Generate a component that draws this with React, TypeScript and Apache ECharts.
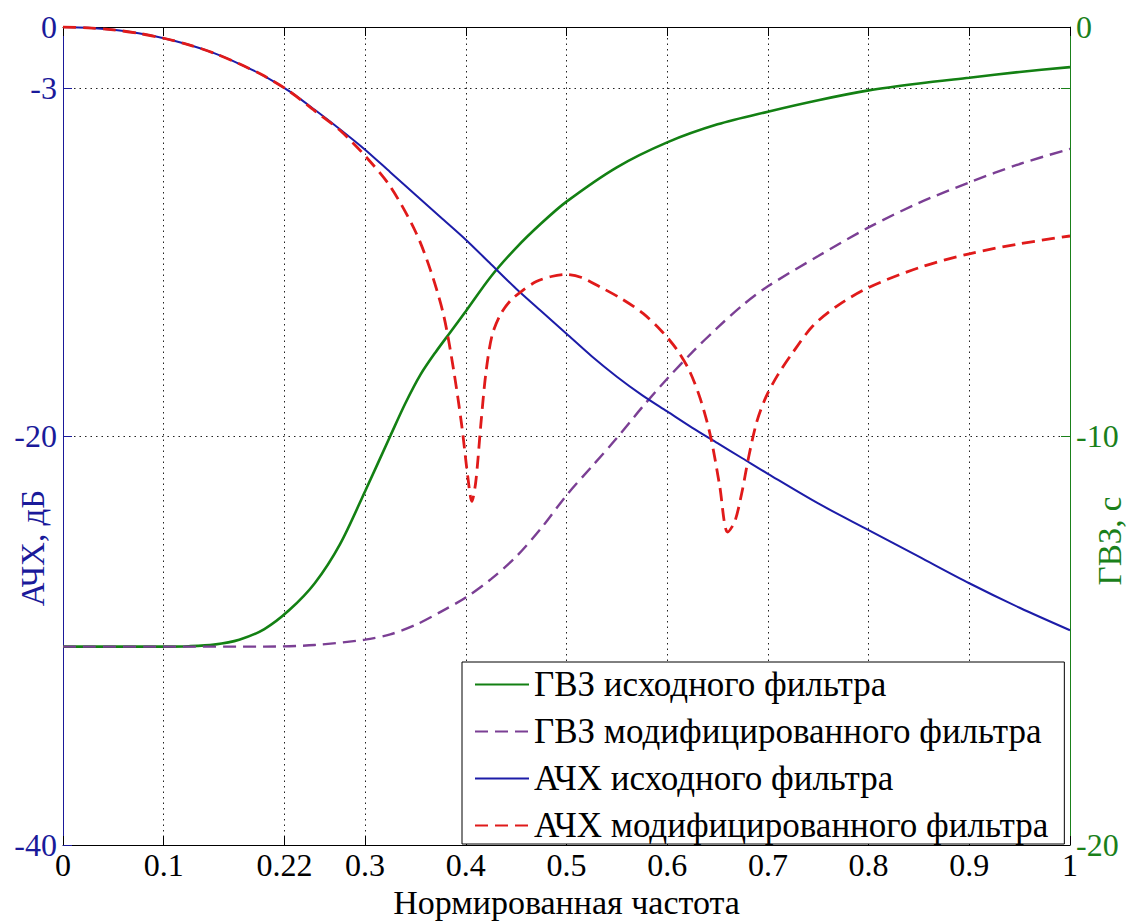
import { useEffect, useRef } from "react";
import * as echarts from "echarts";

// ---- axis ticks ----
const xTicks = [0, 0.1, 0.22, 0.3, 0.4, 0.5, 0.6, 0.7, 0.8, 0.9, 1];
const leftTicks = [0, -3, -20, -40];
const rightTicks = [0, -10, -20];

// ---- ГВЗ исходного фильтра (s) ----
const gvzOrigFreq = [0, 0.05, 0.1, 0.125, 0.15, 0.175, 0.2, 0.225, 0.25, 0.275, 0.3, 0.325, 0.34, 0.355, 0.37, 0.385, 0.4, 0.425, 0.45, 0.475, 0.5, 0.55, 0.6, 0.65, 0.7, 0.75, 0.8, 0.85, 0.9, 0.95, 1.0];
const gvzOrigVal = [-15.15, -15.15, -15.15, -15.14, -15.1, -14.98, -14.72, -14.25, -13.6, -12.65, -11.35, -10.0, -9.2, -8.5, -7.95, -7.45, -6.95, -6.1, -5.4, -4.8, -4.27, -3.43, -2.82, -2.38, -2.07, -1.79, -1.55, -1.38, -1.24, -1.1, -0.98];

// ---- ГВЗ модифицированного фильтра (s) ----
const gvzModFreq = [0, 0.1, 0.2, 0.25, 0.3, 0.325, 0.35, 0.375, 0.4, 0.425, 0.45, 0.475, 0.5, 0.525, 0.55, 0.575, 0.6, 0.625, 0.65, 0.675, 0.7, 0.75, 0.8, 0.85, 0.9, 0.95, 1.0];
const gvzModVal = [-15.15, -15.15, -15.15, -15.11, -14.98, -14.85, -14.62, -14.3, -13.95, -13.5, -12.95, -12.25, -11.45, -10.75, -10.05, -9.3, -8.6, -7.95, -7.35, -6.8, -6.34, -5.6, -4.9, -4.3, -3.8, -3.35, -2.98];

// ---- АЧХ исходного фильтра (dB) ----
const achOrigFreq = [0, 0.025, 0.05, 0.075, 0.1, 0.125, 0.15, 0.175, 0.2, 0.225, 0.25, 0.275, 0.3, 0.325, 0.35, 0.375, 0.4, 0.425, 0.45, 0.475, 0.5, 0.525, 0.55, 0.575, 0.6, 0.625, 0.65, 0.675, 0.7, 0.75, 0.8, 0.85, 0.9, 0.95, 1.0];
const achOrigDb = [0, -0.04, -0.14, -0.31, -0.55, -0.87, -1.28, -1.8, -2.4, -3.15, -4.05, -5.0, -6.0, -7.1, -8.2, -9.3, -10.4, -11.6, -12.8, -13.9, -15.0, -16.1, -17.1, -18.0, -18.8, -19.6, -20.35, -21.1, -21.85, -23.3, -24.6, -25.9, -27.2, -28.4, -29.5];

// ---- АЧХ модифицированного фильтра (dB) ----
const achModFreq = [0, 0.025, 0.05, 0.075, 0.1, 0.125, 0.15, 0.175, 0.2, 0.225, 0.25, 0.275, 0.3, 0.325, 0.35, 0.365, 0.378, 0.388, 0.396, 0.402, 0.406, 0.41, 0.415, 0.42, 0.426, 0.434, 0.444, 0.456, 0.47, 0.485, 0.5, 0.515, 0.533, 0.555, 0.576, 0.595, 0.61, 0.622, 0.633, 0.643, 0.652, 0.66, 0.667, 0.674, 0.681, 0.689, 0.698, 0.71, 0.725, 0.745, 0.77, 0.8, 0.85, 0.9, 0.95, 1.0];
const achModDb = [0, -0.04, -0.14, -0.31, -0.55, -0.87, -1.28, -1.8, -2.4, -3.15, -4.1, -5.05, -6.3, -7.8, -10.0, -11.9, -14.1, -16.8, -19.5, -22.0, -23.2, -22.2, -19.4, -16.9, -15.1, -14.1, -13.4, -12.9, -12.45, -12.2, -12.1, -12.25, -12.7, -13.3, -14.0, -14.9, -15.8, -16.8, -18.2, -20.0, -22.4, -24.7, -24.2, -22.8, -21.0, -19.3, -18.1, -17.0, -15.9, -14.6, -13.6, -12.74, -11.77, -11.09, -10.6, -10.22];

const names = [
  "ГВЗ исходного фильтра",
  "ГВЗ модифицированного фильтра",
  "АЧХ исходного фильтра",
  "АЧХ модифицированного фильтра",
];
const xName = "Нормированная частота";
const leftName = "АЧХ, дБ";
const rightName = "ГВЗ, с";

const zip = (xs: number[], ys: number[]) => xs.map((x, i) => [x, ys[i]]);

const FONT = "Liberation Serif";
const BLUE_AX = "#1A1A9A";
const GREEN_AX = "#1A801A";
const COLORS = ["#138013", "#7B3F94", "#1C1CA8", "#E01A1A"];
const WIDTHS = [2.6, 2.4, 2, 2.8];
const DASHED = [false, true, false, true];
const DASH = [13, 7];

export default function App() {
  const ref = useRef<HTMLDivElement>(null);
  useEffect(() => {
    document.body.style.margin = "0";
    const chart = echarts.init(ref.current!, null, { renderer: "svg" });
    const dotted = { type: [1.5, 4], color: "#222", width: 1 };
    const mk = (i: number, yAxisIndex: number, xs: number[], ys: number[]) => ({
      type: "line",
      name: names[i],
      xAxisIndex: 0,
      yAxisIndex,
      symbol: "none",
      smooth: 0.3,
      data: zip(xs, ys),
      lineStyle: { color: COLORS[i], width: WIDTHS[i], type: DASHED[i] ? DASH : "solid" },
      itemStyle: { color: COLORS[i] },
    });
    chart.setOption({
      animation: false,
      backgroundColor: "#fff",
      textStyle: { fontFamily: FONT },
      grid: { left: 63, right: 58, top: 27, bottom: 76, show: false, containLabel: false, outerBoundsMode: "none" },
      xAxis: [
        {
          type: "value",
          min: 0,
          max: 1,
          position: "bottom",
          name: xName,
          nameLocation: "middle",
          nameGap: 36,
          nameTextStyle: { fontFamily: FONT, fontSize: 34, color: "#000" },
          axisLine: { show: true, onZero: false, lineStyle: { color: "#000", width: 1 } },
          axisTick: { show: true, inside: true, length: 9, customValues: xTicks, lineStyle: { color: "#000" } },
          axisLabel: { customValues: xTicks, fontFamily: FONT, fontSize: 32, color: "#000", margin: 4 },
          splitLine: { show: true, lineStyle: dotted },
        },
        {
          type: "value",
          min: 0,
          max: 1,
          position: "top",
          axisLine: { show: true, onZero: false, lineStyle: { color: "#000", width: 1 } },
          axisTick: { show: true, inside: true, length: 9, customValues: xTicks, lineStyle: { color: "#000" } },
          axisLabel: { show: false },
          splitLine: { show: false },
        },
      ],
      yAxis: [
        {
          type: "value",
          min: -40,
          max: 0,
          position: "left",
          axisLine: { show: true, onZero: false, lineStyle: { color: BLUE_AX, width: 1 } },
          axisTick: { show: true, inside: true, length: 9, customValues: leftTicks, lineStyle: { color: BLUE_AX } },
          axisLabel: { customValues: leftTicks, fontFamily: FONT, fontSize: 32, color: BLUE_AX, margin: 6 },
          splitLine: { show: true, lineStyle: dotted },
        },
        {
          type: "value",
          min: -20,
          max: 0,
          position: "right",
          axisLine: { show: true, onZero: false, lineStyle: { color: GREEN_AX, width: 1 } },
          axisTick: { show: true, inside: true, length: 9, customValues: [-1.5, -10], lineStyle: { color: GREEN_AX } },
          axisLabel: { customValues: rightTicks, fontFamily: FONT, fontSize: 32, color: GREEN_AX, margin: 6 },
          splitLine: { show: false },
        },
      ],
      legend: {
        orient: "vertical",
        left: 462,
        top: 662,
        padding: [5, 16, 1, 12],
        itemGap: 12,
        itemWidth: 54,
        itemHeight: 14,
        backgroundColor: "#fff",
        borderColor: "#000",
        borderWidth: 1,
        borderRadius: 0,
        itemStyle: { opacity: 0 },
        textStyle: { fontFamily: FONT, fontSize: 35, color: "#000" },
        data: names,
      },
      series: [
        mk(0, 1, gvzOrigFreq, gvzOrigVal),
        mk(1, 1, gvzModFreq, gvzModVal),
        mk(2, 0, achOrigFreq, achOrigDb),
        mk(3, 0, achModFreq, achModDb),
      ],
    });

    // rotated axis titles, placed from the chart's own scales
    const pyL = (v: number) => chart.convertToPixel({ yAxisIndex: 0 }, v) as number;
    const px = (v: number) => chart.convertToPixel({ xAxisIndex: 0 }, v) as number;
    const yMid = (pyL(0) + pyL(-40)) / 2;
    chart.setOption({
      graphic: [
        {
          type: "text",
          x: px(0) - 30,
          y: yMid + 112,
          rotation: Math.PI / 2,
          style: { text: leftName, fontFamily: FONT, fontSize: 33, fill: BLUE_AX, align: "center", verticalAlign: "middle" },
        },
        {
          type: "text",
          x: px(1) + 40,
          y: yMid + 105,
          rotation: Math.PI / 2,
          style: { text: rightName, fontFamily: FONT, fontSize: 33, fill: GREEN_AX, align: "center", verticalAlign: "middle" },
        },
      ],
    });
    return () => chart.dispose();
  }, []);
  return <div ref={ref} style={{ width: 1128, height: 921 }} />;
}
